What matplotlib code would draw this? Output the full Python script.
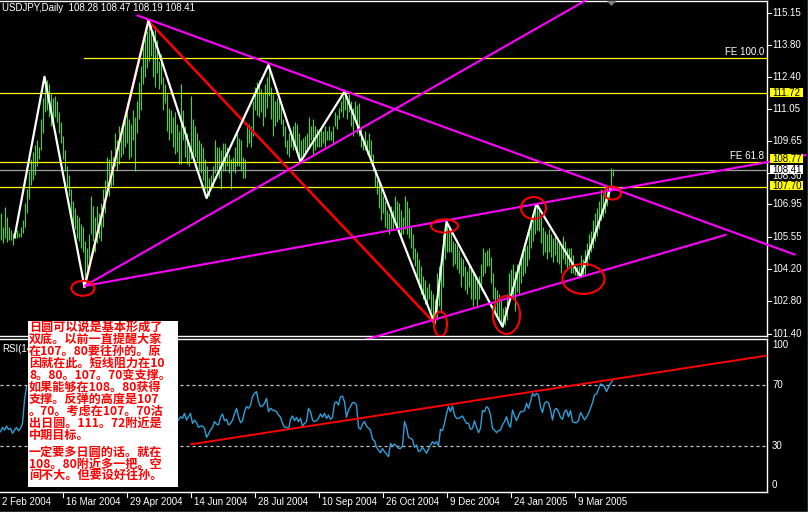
import matplotlib
matplotlib.use("Agg")
import matplotlib.pyplot as plt
import matplotlib.transforms as mtransforms
from matplotlib.patches import Ellipse, Rectangle, Polygon
from matplotlib.lines import Line2D
import numpy as np

plt.rcParams['font.family'] = ['Liberation Sans', 'DejaVu Sans']

# ---------------- data ----------------
symbol = "USDJPY,Daily"
last_ohlc = [108.28, 108.47, 108.19, 108.41]

highs = [
    106.57, 106.00, 106.86, 106.43, 106.00, 105.86, 105.72, 105.86, 105.86, 105.72,
    106.00, 106.29, 107.00, 107.60, 108.40, 108.90, 109.20, 109.50, 109.70, 109.40,
    110.60, 111.50, 112.42, 112.30, 112.10, 111.70, 111.50, 111.60, 111.40, 110.90,
    110.50, 109.90, 109.30, 108.60, 108.20, 107.60, 107.10, 106.80, 106.50, 106.40,
    106.10, 106.00, 105.40, 105.10, 105.70, 107.30, 106.90, 106.40, 106.90, 106.60,
    107.00, 107.60, 108.00, 109.00, 108.90, 109.30, 109.00, 110.00, 109.70, 110.30,
    110.00, 110.30, 110.70, 111.00, 110.60, 110.40, 111.00, 110.70, 111.40, 112.20,
    112.90, 113.80, 114.10, 114.40, 114.82, 114.70, 114.40, 114.60, 114.00, 113.10,
    113.40, 112.40, 112.10, 111.70, 111.10, 111.00, 110.70, 110.90, 110.40, 110.10,
    112.10, 111.00, 110.30, 110.00, 109.60, 111.60, 110.60, 110.30, 110.00, 109.70,
    109.60, 109.40, 108.90, 108.60, 108.10, 108.20, 108.60, 109.70, 109.40, 109.40,
    109.30, 109.60, 109.60, 109.40, 109.10, 108.90, 109.00, 109.40, 110.00, 109.80,
    109.70, 109.00, 108.90, 110.30, 110.40, 110.30, 111.40, 112.00, 112.20, 112.30,
    111.90, 111.70, 112.10, 112.40, 112.92, 112.00, 111.70, 111.40, 111.50, 111.60,
    111.30, 110.60, 110.30, 109.70, 110.00, 110.10, 110.30, 110.50, 110.40, 110.00,
    109.70, 109.80, 109.90, 110.00, 110.70, 110.30, 110.60, 110.30, 110.20, 110.00,
    110.30, 110.10, 110.30, 110.10, 110.30, 110.10, 110.30, 110.90, 110.80, 111.10,
    111.40, 111.60, 111.78, 111.60, 111.70, 111.40, 111.10, 111.40, 111.20, 111.30,
    110.30, 109.70, 110.10, 109.70, 110.00, 109.70, 109.10, 108.40, 108.00, 107.90,
    107.70, 107.30, 107.10, 106.70, 106.60, 106.90, 106.70, 107.30, 107.10, 107.00,
    106.70, 106.40, 107.30, 107.10, 106.80, 106.00, 105.70, 105.10, 104.90, 104.60,
    104.30, 103.90, 103.70, 103.40, 103.60, 103.30, 103.10, 102.90, 104.00, 104.30,
    104.60, 105.70, 106.00, 106.21, 106.00, 105.80, 105.40, 105.30, 105.20, 105.00,
    104.70, 104.60, 104.30, 104.10, 104.40, 104.30, 104.10, 103.90, 103.70, 103.90,
    104.40, 105.10, 104.90, 105.00, 105.10, 104.70, 104.00, 103.40, 103.30, 103.10,
    102.90, 102.50, 102.60, 103.10, 104.00, 104.20, 104.40, 104.10, 104.40, 104.40,
    104.70, 104.90, 105.10, 105.20, 105.90, 106.30, 106.60, 106.90, 106.97, 106.80,
    106.40, 106.00, 105.80, 105.70, 105.90, 105.70, 105.50, 105.60, 105.40, 105.30,
    105.20, 105.60, 105.40, 105.10, 105.10, 105.10, 104.80, 104.40, 104.30, 104.30,
    104.80, 104.60, 105.00, 105.30, 105.70, 105.80, 106.30, 106.60, 106.80, 107.10,
    107.60, 107.40, 107.70, 107.70, 107.80, 108.50, 108.47,
]
lows = [
    105.43, 105.29, 105.50, 105.36, 105.43, 105.43, 105.22, 105.50, 105.50, 105.55,
    105.55, 105.72, 106.00, 106.60, 107.20, 107.80, 108.00, 108.20, 108.60, 108.90,
    109.30, 110.00, 110.90, 111.00, 110.70, 110.30, 110.40, 110.70, 110.50, 110.00,
    109.60, 108.90, 108.40, 107.70, 107.30, 106.60, 106.10, 105.90, 105.50, 105.40,
    105.10, 104.90, 103.42, 103.90, 104.30, 105.70, 105.40, 104.90, 105.30, 105.50,
    105.40, 106.00, 106.60, 107.70, 107.30, 107.70, 107.80, 108.60, 108.40, 108.70,
    109.00, 109.10, 109.40, 109.60, 108.90, 109.00, 109.70, 108.40, 110.00, 110.60,
    111.00, 112.10, 112.40, 112.80, 113.10, 113.30, 112.40, 112.00, 112.60, 111.90,
    112.10, 111.00, 111.30, 110.10, 109.70, 110.00, 109.40, 109.10, 109.20, 108.70,
    108.70, 109.70, 109.00, 108.70, 108.60, 108.90, 109.10, 109.00, 108.80, 108.40,
    108.30, 108.00, 107.60, 107.23, 107.30, 107.70, 107.70, 108.30, 108.40, 108.10,
    107.60, 108.40, 108.40, 108.60, 108.30, 107.60, 108.40, 108.30, 108.60, 108.60,
    108.40, 108.10, 108.10, 109.40, 109.60, 109.40, 109.90, 111.00, 110.80, 110.70,
    110.90, 110.30, 110.70, 111.10, 111.60, 110.60, 109.90, 110.30, 110.50, 110.60,
    110.40, 109.90, 109.40, 109.10, 109.00, 109.40, 109.30, 109.60, 109.10, 109.00,
    108.78, 109.00, 109.10, 109.30, 109.40, 109.70, 109.10, 109.30, 109.40, 109.40,
    109.40, 109.60, 109.40, 109.70, 109.70, 109.70, 109.60, 110.30, 110.20, 110.60,
    110.90, 110.70, 111.00, 110.60, 110.90, 110.30, 109.90, 110.60, 110.00, 109.90,
    109.40, 109.30, 109.30, 109.10, 109.10, 109.00, 108.40, 107.70, 107.40, 106.80,
    106.30, 106.60, 106.00, 105.90, 105.70, 105.90, 105.90, 106.30, 106.00, 105.70,
    105.40, 105.70, 105.90, 105.70, 105.50, 105.10, 104.60, 104.30, 103.90, 103.40,
    103.10, 102.90, 102.70, 102.60, 102.90, 102.40, 102.10, 101.87, 102.00, 102.60,
    102.30, 103.40, 104.60, 104.90, 104.90, 104.90, 104.30, 104.40, 104.20, 104.00,
    103.40, 103.90, 103.30, 103.10, 103.40, 102.90, 102.60, 102.90, 102.60, 102.90,
    103.30, 103.90, 104.00, 104.30, 104.30, 103.60, 102.90, 102.30, 102.20, 102.00,
    101.80, 101.72, 101.80, 102.00, 102.90, 103.10, 102.90, 102.40, 103.20, 103.10,
    103.60, 103.90, 104.00, 104.30, 104.60, 105.10, 105.40, 105.70, 105.86, 105.80,
    105.30, 104.80, 104.90, 104.60, 104.90, 104.70, 104.50, 104.80, 104.50, 104.40,
    104.00, 104.60, 104.40, 104.20, 104.30, 104.00, 104.00, 103.95, 103.90, 103.92,
    103.86, 103.95, 103.90, 104.30, 104.60, 104.90, 105.10, 105.40, 105.60, 105.90,
    106.30, 106.40, 106.60, 106.90, 107.20, 107.60, 108.19,
]

# ZigZag pivots (bar index, price)
zz_bars = [7, 22, 42, 74, 103, 134, 150, 172, 217, 223, 251, 268, 290, 305]
zz_prices = [105.54, 112.42, 103.42, 114.82, 107.23, 112.92, 108.78, 111.78,
             101.87, 106.21, 101.72, 106.97, 103.86, 107.64]

# RSI(14): visible part left of the note, and from bar 89 onwards
rsi_left_start = 0
rsi_left = [39.4, 42.2, 40.4, 43.1, 40.9, 41.6, 38.3, 40.4, 42.2, 40.0, 41.6, 44.9, 60.1, 68.8]
rsi_right_start = 89
rsi_right = [
    47.1, 49.2, 48.2, 51.4, 47.1, 49.2,
    51.4, 44.8, 47.0, 45.3, 42.3, 43.1, 43.1, 41.6, 35.7, 37.9,
    40.5, 42.3, 46.0, 44.4, 43.8, 48.8, 51.0, 46.6, 47.5, 43.8,
    44.8, 47.0, 51.0, 54.7, 49.2, 45.3, 46.6, 52.5, 55.8, 54.7,
    56.6, 62.3, 64.5, 65.6, 59.0, 55.8, 56.2, 58.0, 61.2, 52.5,
    54.7, 53.6, 53.2, 52.5, 50.3, 48.8, 44.8, 42.3, 42.3, 40.9,
    47.5, 49.7, 46.6, 48.8, 46.0, 48.1, 43.1, 44.8, 46.0, 54.7,
    52.5, 47.0, 46.0, 46.6, 48.1, 51.0, 48.8, 51.4, 48.1, 50.3,
    47.5, 48.8, 58.0, 59.0, 56.8, 62.3, 62.7, 59.0, 48.8, 53.6,
    55.8, 58.4, 58.4, 56.8, 42.3, 40.9, 44.4, 46.0, 43.1, 41.6,
    40.5, 34.4, 33.5, 29.2, 27.4, 25.7, 28.5, 26.3, 24.8, 23.1,
    31.8, 30.0, 31.3, 30.0, 28.5, 28.5, 30.0, 46.0, 42.3, 35.7, 35.0,
    34.4, 29.2, 30.7, 26.4, 27.0, 29.2, 27.4, 25.3, 27.9, 30.7,
    32.9, 31.4, 32.9, 30.1, 41.0, 40.1, 44.9, 51.0, 55.8, 52.5,
    56.2, 50.3, 48.1, 48.1, 48.8, 49.7, 47.1, 44.9, 44.9, 41.0,
    41.6, 46.6, 42.3, 38.8, 41.6, 53.2, 52.5, 55.8, 54.7, 50.3,
    41.6, 40.5, 38.8, 40.1, 40.5, 43.8, 46.0, 49.2, 44.4, 42.3,
    53.6, 49.7, 46.6, 49.7, 52.5, 52.5, 53.2, 58.0, 54.7, 59.0,
    64.5, 62.7, 64.5, 63.4, 55.8, 51.9, 58.0, 59.0, 58.4, 53.6,
    47.1, 53.6, 54.7, 52.5, 48.8, 47.5, 52.5, 53.6, 49.2, 53.2,
    46.0, 45.3, 45.3, 46.6, 51.9, 49.7, 47.1, 48.8, 51.4, 54.7,
    58.4, 63.4, 64.0, 67.1, 70.6, 70.0, 68.8, 65.6, 68.4, 71.0, 72.8,
]
rsi_levels = [70, 30]

# Horizontal levels
fe100_level = 113.21
fe618_level = 108.77
level_111 = 111.72
level_107 = 107.70

price_ticks = [115.15, 113.80, 112.40, 111.05, 109.65, 108.30,
               106.95, 105.55, 104.20, 102.80, 101.40]
rsi_ticks = [100, 70, 30, 0]

date_labels = ["2 Feb 2004", "16 Mar 2004", "29 Apr 2004", "14 Jun 2004",
               "28 Jul 2004", "10 Sep 2004", "26 Oct 2004", "9 Dec 2004",
               "24 Jan 2005", "9 Mar 2005"]
date_bars = [-1, 31, 63, 95, 127, 159, 191, 223, 255, 287]

# Trend lines: ((bar, price), (bar, price))
magenta_lines = [
    ((68.0, 115.06), (397.5, 104.79)),    # falling resistance
    ((42.0, 103.46), (403.0, 109.07)),    # channel top
    ((42.0, 103.46), (293.0, 115.71)),    # steep support
    ((159.5, 100.59), (363.0, 105.66)),   # channel bottom
]
red_lines = [
    ((73.5, 114.85), (217.0, 101.87)),
    ((42.0, 103.42), (74.0, 114.82)),
]
rsi_trend = ((95.3, 31.2), (382.8, 89.1))

# Marked turning points (bar, price, width in bars, height in price)
circles = [
    (41.2, 103.36, 11.5, 0.64),
    (222.0, 106.03, 13.5, 0.56),
    (220.0, 101.83, 6.5, 1.07),
    (253.0, 102.22, 13.5, 1.63),
    (266.5, 106.80, 12.5, 0.94),
    (291.5, 103.76, 21.0, 1.28),
    (306.0, 107.44, 8.5, 0.56),
]

note_lines = [
    "日圆可以说是基本形成了",
    "双底。以前一直提醒大家",
    "在107。80要往孙的。原",
    "因就在此。短线阻力在10",
    "8。80。107。70变支撑。",
    "如果能够在108。80获得",
    "支撑。反弹的高度是107",
    "。70。考虑在107。70沽",
    "出日圆。111。72附近是",
    "中期目标。",
    "一定要多日圆的话。就在",
    "108。80附近多一把。空",
    "间不大。但要设好往孙。",
]

# ---------------- figure ----------------
W, H = 808, 512
fig = plt.figure(figsize=(W / 100, H / 100), dpi=100, facecolor="black")


def box(x0, y0, x1, y1):
    return [x0 / W, 1 - y1 / H, (x1 - x0) / W, (y1 - y0) / H]


def fy(ypix):
    return 1 - ypix / H


ax = fig.add_axes(box(0, 1, 767, 336))
ax_r = fig.add_axes(box(0, 339, 767, 492))
for a in (ax, ax_r):
    a.set_facecolor("black")
    a.set_xticks([])
    a.set_yticks([])
    a.spines["left"].set_visible(False)
    for s in ("top", "right", "bottom"):
        a.spines[s].set_color("white")
        a.spines[s].set_linewidth(1.0)
    # two pixels per bar, bar centres on pixel centres
    a.set_xlim(-0.25, 383.25)
ax.set_ylim(101.317, 115.664)
ax_r.set_ylim(0, 100)

bars = np.arange(len(highs))

# horizontal levels
ax.axhline(level_111, color="#ffff00", lw=0.9, zorder=3)
ax.axhline(fe618_level, color="#ffff00", lw=0.9, zorder=3)
ax.axhline(level_107, color="#ffff00", lw=0.9, zorder=3)
ax.plot([41.5, 383.25], [fe100_level, fe100_level], color="#ffff00", lw=0.9, zorder=3)
ax.axhline(last_ohlc[3], color="#a0a0a0", lw=0.9, zorder=3)
ax.text(382, fe100_level + 0.05, "FE 100.0", color="white", fontsize=7,
        ha="right", va="bottom", zorder=4)
ax.text(382, fe618_level + 0.05, "FE 61.8", color="white", fontsize=7,
        ha="right", va="bottom", zorder=4)

# price bars: one-pixel high/low strokes
ax.vlines(bars, lows, highs, colors="#00ff00", lw=0.72, zorder=2)

# red lines, zigzag, magenta trend lines
for (x0, y0), (x1, y1) in red_lines:
    ax.plot([x0, x1], [y0, y1], color="#ff0000", lw=1.8, zorder=4)
ax.plot(zz_bars, zz_prices, color="white", lw=1.6, zorder=5)
for (x0, y0), (x1, y1) in magenta_lines:
    ax.plot([x0, x1], [y0, y1], color="#ff00ff", lw=1.5, zorder=6,
            clip_on=False, solid_capstyle="butt")

for cx, cy, w, h in circles:
    ax.add_patch(Ellipse((cx, cy), w, h, fill=False, edgecolor="#ff0000",
                         lw=1.5, zorder=7))

# RSI panel
rsi_col = "#2e9ed6"
ax_r.plot(np.arange(rsi_left_start, rsi_left_start + len(rsi_left)), rsi_left,
          color=rsi_col, lw=1.0, zorder=3)
ax_r.plot(np.arange(rsi_right_start, rsi_right_start + len(rsi_right)), rsi_right,
          color=rsi_col, lw=1.0, zorder=3)
for lv in rsi_levels:
    ax_r.axhline(lv, color="#c8c8c8", lw=0.9, ls=(0, (2.4, 2.4)), zorder=2)
(rx0, ry0), (rx1, ry1) = rsi_trend
ax_r.plot([rx0, rx1], [ry0, ry1], color="#ff0000", lw=1.4, zorder=4)

# right price scale
tr_p = mtransforms.blended_transform_factory(fig.transFigure, ax.transData)
px_per_price = 335 / (115.664 - 101.317)
for p in price_ticks:
    if p == 108.30:
        # sits under the bid label, only its lower part shows
        fig.text(772 / W, p - 3 / px_per_price, f"{p:.2f}", transform=tr_p,
                 color="white", fontsize=7, va="center", ha="left")
    else:
        fig.text(772 / W, p, f"{p:.2f}", transform=tr_p, color="white",
                 fontsize=7, va="center", ha="left")
    fig.add_artist(Line2D([767 / W, 771 / W], [p, p], transform=tr_p,
                          color="white", lw=0.8))

# highlighted price labels (value, background, vertical shift in px)
for val, bg, shift in ((fe618_level, "#ffff00", 3.0), (last_ohlc[3], "#ffffff", 0.5),
                       (level_107, "#ffff00", 1.0), (level_111, "#ffff00", 0.5)):
    hgt = 9.0 / px_per_price
    yc = val + shift / px_per_price
    fig.add_artist(Rectangle((770 / W, yc - hgt / 2), 33 / W, hgt,
                             transform=tr_p, facecolor=bg, edgecolor="none",
                             zorder=4))
    fig.text(772 / W, yc, f"{val:.2f}", transform=tr_p, color="black",
             fontsize=7, va="center", ha="left", zorder=5)

# RSI scale
for v in rsi_ticks:
    ypix = 492 - 153 * v / 100
    ypix = min(max(ypix, 345), 485)
    fig.text(772 / W, fy(ypix), f"{v}", color="white", fontsize=7,
             va="center", ha="left")

# date axis
tr_d = mtransforms.blended_transform_factory(ax_r.transData, fig.transFigure)
tr_dt = mtransforms.offset_copy(tr_d, fig=fig, x=3, y=0, units="dots")
for lbl, b in zip(date_labels, date_bars):
    fig.text(b, fy(502), lbl, transform=tr_dt, color="white", fontsize=7,
             va="center", ha="left")
    fig.add_artist(Line2D([b, b], [fy(492), fy(497)], transform=tr_d,
                          color="white", lw=0.8))

# header
fig.text(2 / W, fy(8), symbol + "  " + " ".join(f"{v:.2f}" for v in last_ohlc),
         color="white", fontsize=7, va="center", ha="left")
rsi_lbl = fig.text(2 / W, fy(349), "RSI(14)", color="white", fontsize=7,
                   va="center", ha="left", zorder=3)
rsi_lbl.set_clip_box(mtransforms.Bbox.from_extents(0, 0, 28, H))
rsi_lbl.set_clip_on(True)

# chart shift marker
fig.add_artist(Polygon([(607 / W, fy(1)), (616 / W, fy(1)), (611.5 / W, fy(6))],
                       closed=True, facecolor="#808080", edgecolor="none",
                       transform=fig.transFigure, zorder=4))

# comment box
fig.add_artist(Rectangle((28 / W, fy(487)), 150 / W, 166 / H,
                         transform=fig.transFigure, facecolor="white",
                         edgecolor="none", zorder=8))
line_y = [327, 339, 351, 363, 375, 387, 399, 411, 423, 435, 452, 464, 475.5]
for txt, yy in zip(note_lines, line_y):
    fig.text(29 / W, fy(yy), txt, color="#ff0000", fontsize=8.7,
             fontweight="bold", family=["Noto Sans CJK SC", "DejaVu Sans"],
             va="center", ha="left", zorder=9)

# window frame
fig.add_artist(Line2D([0, 1], [0.5 / H, 0.5 / H], transform=fig.transFigure,
                      color="#d0e4d0", lw=1.0))
fig.add_artist(Line2D([1 - 0.5 / W, 1 - 0.5 / W], [0, 1], transform=fig.transFigure,
                      color="#d0e4d0", lw=1.0))

fig.savefig("out.png", dpi=100, facecolor="black")
